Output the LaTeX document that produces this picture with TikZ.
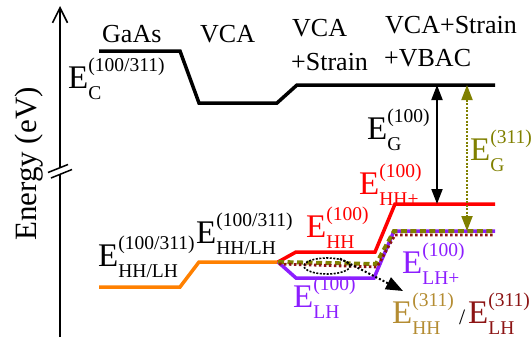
\documentclass[tikz,border=0pt]{standalone}
\usepackage{fontspec}
\setmainfont{Liberation Serif}
\usetikzlibrary{arrows.meta,shapes.geometric}
\definecolor{cborange}{RGB}{255,128,0}
\definecolor{cbpurple}{RGB}{140,30,255}
\definecolor{cbolive}{RGB}{128,128,0}
\definecolor{cbgold}{RGB}{180,140,50}
\definecolor{cbdarkred}{RGB}{140,20,20}
\newsavebox\supbox
\newsavebox\subbox
\newcommand\Elab[2]{{\fontsize{33}{33}\selectfont E}%
  \sbox\supbox{\fontsize{19.5}{19.5}\selectfont #1}%
  \sbox\subbox{\fontsize{19.5}{19.5}\selectfont #2}%
  \ifdim\wd\supbox>\wd\subbox
    \rlap{\raisebox{-11.5pt}{\usebox\subbox}}\raisebox{16.5pt}{\usebox\supbox}%
  \else
    \rlap{\raisebox{16.5pt}{\usebox\supbox}}\raisebox{-11.5pt}{\usebox\subbox}%
  \fi}
\tikzset{
  lvl/.style={line width=3.5pt},
  lab/.style={inner sep=0pt, anchor=base west, font=\fontsize{26}{26}\selectfont},
  elab/.style={inner sep=0pt, anchor=base west},
  gaparrow/.style={line width=2pt, {Triangle[length=15pt,width=11pt]}-{Triangle[length=15pt,width=11pt]}},
}
\begin{document}
\begin{tikzpicture}[x=1pt,y=-1pt]
\useasboundingbox (0,0) rectangle (531,340);
% axis
\coordinate (axb) at (60,337);
\coordinate (axm1) at (60,174);
\coordinate (axm2) at (60,168);
\coordinate (axt) at (60,6);
\draw[line width=1.6pt] (axb) -- (axm1);
\draw[line width=1.6pt, -{Straight Barb[length=15pt,width=15pt]}] (axm2) -- (axt);
\coordinate (b1a) at (48,172.5); \coordinate (b1b) at (68,164.5);
\coordinate (b2a) at (51,178); \coordinate (b2b) at (72,169.5);
\draw[line width=1.5pt] (b1a) -- (b1b);
\draw[line width=1.5pt] (b2a) -- (b2b);
\node[rotate=90, anchor=base, inner sep=0pt, font=\fontsize{31}{31}\selectfont] (ylab) at (37,164) {Energy (eV)};
% column titles
\node[lab] (gaas) at (102,42) {GaAs};
\node[lab] (vca) at (200,42) {VCA};
\node[lab] (vcas1) at (292,37) {VCA};
\node[lab] (vcas2) at (291,70) {+Strain};
\node[lab] (vcasv1) at (385,33) {VCA+Strain};
\node[lab] (vcasv2) at (384,66) {+VBAC};
% conduction band
\coordinate (c0) at (99,51); \coordinate (c1) at (180,51); \coordinate (c2) at (199,103);
\coordinate (c3) at (277,103); \coordinate (c4) at (297,85); \coordinate (c5) at (495,85);
\draw[lvl, black] (c0) -- (c1) -- (c2) -- (c3) -- (c4) -- (c5);
% valence band (unsplit)
\coordinate (v0) at (99,287); \coordinate (v1) at (180,287); \coordinate (v2) at (199,262);
\coordinate (br) at (278,262);
\draw[lvl, cborange] (v0) -- (v1) -- (v2) -- (br);
% purple LH (100)
\coordinate (p1) at (296,278); \coordinate (p2) at (374,278); \coordinate (p3) at (394,231); \coordinate (p4) at (495,231);
\draw[lvl, cbpurple] (br) -- (p1) -- (p2) -- (p3) -- (p4);
% red HH (100)
\coordinate (r1) at (296,252); \coordinate (r2) at (375,252); \coordinate (r3) at (395,204); \coordinate (r4) at (495,204);
\draw[lvl, red] (br) -- (r1) -- (r2) -- (r3) -- (r4);
% olive dashed HH (311)
\coordinate (o1) at (376,264); \coordinate (o2) at (394,231); \coordinate (o3) at (495,231);
\draw[line width=4pt, cbolive, dash pattern=on 6pt off 3.5pt] (br) -- (o1) -- (o2) -- (o3);
% dark red dotted LH (311)
\coordinate (d0) at (279,264); \coordinate (d1) at (377,267); \coordinate (d2) at (395,235); \coordinate (d3) at (495,235);
\draw[line width=2.8pt, cbdarkred, dash pattern=on 2.5pt off 2.5pt] (d0) -- (d1) -- (d2) -- (d3);
% ellipse and pointer
\node[draw, ellipse, minimum width=46pt, minimum height=16pt, inner sep=0pt, line width=1.6pt, dash pattern=on 2pt off 1.5pt] (ell) at (327,266) {};
\coordinate (ptip) at (403,291);
\draw[line width=2pt, dash pattern=on 2pt off 2pt, -{Triangle[length=17pt,width=13pt]}] (ell.30) -- (ptip);
% gap arrows
\coordinate (g1t) at (437,85); \coordinate (g1b) at (437,204);
\draw[gaparrow, black] (g1t) -- (g1b);
\coordinate (g2t) at (467,85); \coordinate (g2b) at (467,231);
\draw[gaparrow, cbolive, dash pattern=on 2pt off 1.5pt] (g2t) -- (g2b);
% energy labels
\node[elab] (ec) at (68,88) {\Elab{(100/311)}{C}};
\node[elab] (ehl1) at (98,266) {\Elab{(100/311)}{HH/LH}};
\node[elab] (ehl2) at (196,243) {\Elab{(100/311)}{HH/LH}};
\node[elab] (eg1) at (367,139) {\Elab{(100)}{G}};
\node[elab, text=cbolive] (eg2) at (470,160) {\Elab{(311)}{G}};
\node[elab, text=red] (ehhp) at (359,194) {\Elab{(100)}{HH+}};
\node[elab, text=red] (ehh) at (306,237) {\Elab{(100)}{HH}};
\node[elab, text=cbpurple] (elh) at (293,307) {\Elab{(100)}{LH}};
\node[elab, text=cbpurple] (elhp) at (402,273) {\Elab{(100)}{LH+}};
\node[elab, text=cbgold] (ehh3) at (392,323) {\Elab{(311)}{HH}};
\node[elab, font=\fontsize{22}{22}\selectfont] (slash) at (459,324) {/};
\node[elab, text=cbdarkred] (elh3) at (468,323) {\Elab{(311)}{LH}};
\end{tikzpicture}
\end{document}
